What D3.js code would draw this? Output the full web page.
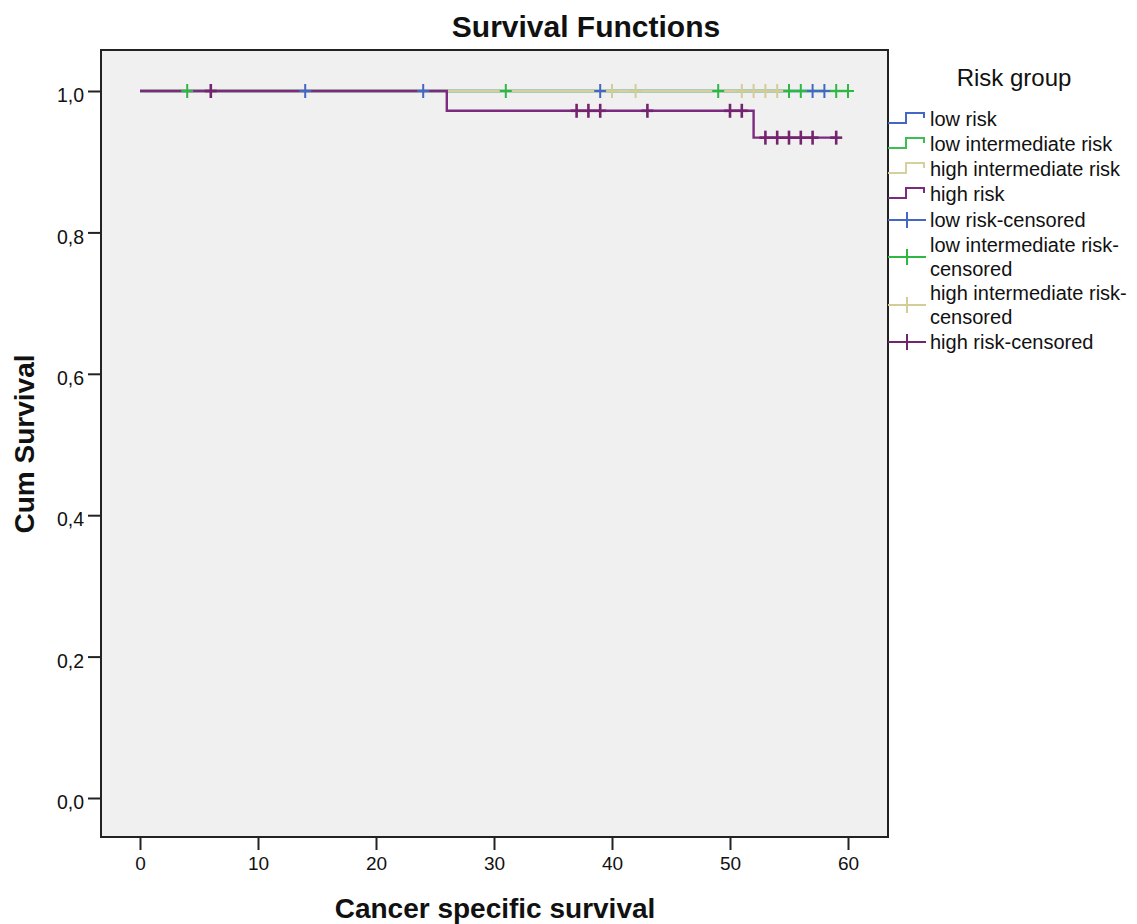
<!DOCTYPE html>
<html>
<head>
<meta charset="utf-8">
<script src="https://cdn.jsdelivr.net/npm/d3@7"></script>
<style>
  html, body { margin: 0; padding: 0; background: #ffffff; }
  svg { display: block; }
  text { font-family: "Liberation Sans", Arial, sans-serif; fill: #111; }
</style>
</head>
<body>
<svg id="chart" width="1137" height="924"></svg>
<script>
// Kaplan-Meier curves per risk group: step times (months) and cumulative survival
const groups = ["low risk", "low intermediate risk", "high intermediate risk", "high risk"];
const groupColors = ["#4466c4", "#3cbf50", "#d6d09c", "#7c2a80"];
const censorColors = ["#4466c4", "#2eb843", "#d2cc96", "#74236f"];

const lowRiskTimes = [0, 58];
const lowRiskSurvival = [1, 1];
const lowIntTimes = [0, 60];
const lowIntSurvival = [1, 1];
const highIntTimes = [0, 54];
const highIntSurvival = [1, 1];
const highRiskTimes = [0, 26, 52, 59];
const highRiskSurvival = [1, 0.972, 0.934, 0.934];

// censored observations (months)
const lowRiskCensored = [14, 24, 39, 57, 58];
const lowIntCensored = [4, 31, 49, 55, 56, 59, 60];
const highIntCensored = [40, 42, 51, 52, 53, 54];
const highRiskCensored = [6, 37, 38, 39, 43, 50, 51, 53, 54, 55, 56, 57, 59];

const xTicks = [0, 10, 20, 30, 40, 50, 60];
const yTicks = [0, 0.2, 0.4, 0.6, 0.8, 1.0];

const legendLabels = [
  ["low risk"],
  ["low intermediate risk"],
  ["high intermediate risk"],
  ["high risk"],
  ["low risk-censored"],
  ["low intermediate risk-", "censored"],
  ["high intermediate risk-", "censored"],
  ["high risk-censored"]
];

const series = [
  { times: lowRiskTimes, surv: lowRiskSurvival, cens: lowRiskCensored },
  { times: lowIntTimes, surv: lowIntSurvival, cens: lowIntCensored },
  { times: highIntTimes, surv: highIntSurvival, cens: highIntCensored },
  { times: highRiskTimes, surv: highRiskSurvival, cens: highRiskCensored }
];

const svg = d3.select("#chart");
const frame = { left: 101, right: 888, top: 50, bottom: 837 };

const x = d3.scaleLinear().domain([0, 60]).range([140, 848]);
const y = d3.scaleLinear().domain([0, 1]).range([798, 91]);

// plot background
svg.append("rect")
  .attr("x", frame.left).attr("y", frame.top)
  .attr("width", frame.right - frame.left).attr("height", frame.bottom - frame.top)
  .attr("fill", "#f0f0f0");

// title
svg.append("text")
  .attr("x", 586).attr("y", 37)
  .attr("text-anchor", "middle")
  .style("font-weight", "bold").style("font-size", "30px")
  .text("Survival Functions");

// axes
const fmt = d => d3.format(".1f")(d).replace(".", ",");
const xAxis = svg.append("g")
  .attr("transform", `translate(0,${frame.bottom})`)
  .call(d3.axisBottom(x).tickValues(xTicks).tickSize(13).tickPadding(7).tickFormat(d3.format("d")));
xAxis.select(".domain").remove();
xAxis.selectAll("line").attr("stroke", "#222").attr("stroke-width", 2);
xAxis.selectAll("text").style("font-size", "19px").attr("fill", "#111");

const yAxis = svg.append("g")
  .attr("transform", `translate(${frame.left},0)`)
  .call(d3.axisLeft(y).tickValues(yTicks).tickSize(13).tickPadding(4).tickFormat(fmt));
yAxis.select(".domain").remove();
yAxis.selectAll("line").attr("stroke", "#222").attr("stroke-width", 2);
yAxis.selectAll("text").style("font-size", "19.5px").attr("dy", "0.55em").attr("fill", "#111");

// axis titles
svg.append("text")
  .attr("x", 495).attr("y", 918)
  .attr("text-anchor", "middle")
  .style("font-weight", "bold").style("font-size", "28px")
  .text("Cancer specific survival");

svg.append("text")
  .attr("transform", "translate(34,444) rotate(-90)")
  .attr("text-anchor", "middle")
  .style("font-weight", "bold").style("font-size", "28px")
  .text("Cum Survival");

// survival step curves
const line = d3.line()
  .x(d => x(d[0]))
  .y(d => y(d[1]))
  .curve(d3.curveStepAfter);

const plot = svg.append("g");
series.forEach((s, i) => {
  const pts = s.times.map((t, k) => [t, s.surv[k]]);
  plot.append("path")
    .attr("d", line(pts))
    .attr("fill", "none")
    .attr("stroke", groupColors[i])
    .attr("stroke-width", 2.4);
});

// survival value at time t for a step curve
function survAt(s, t) {
  let v = s.surv[0];
  s.times.forEach((tt, k) => { if (tt <= t) v = s.surv[k]; });
  return v;
}

// censoring crosses
series.forEach((s, i) => {
  s.cens.forEach(t => {
    const cx = x(t), cy = y(survAt(s, t));
    const g = plot.append("g").attr("stroke", censorColors[i]).attr("stroke-width", i === 3 ? 2.6 : 2);
    g.append("line").attr("x1", cx).attr("x2", cx).attr("y1", cy - 7).attr("y2", cy + 7);
    g.append("line").attr("x1", cx - 6).attr("x2", cx + 6).attr("y1", cy).attr("y2", cy);
  });
});

// frame border
svg.append("rect")
  .attr("x", frame.left).attr("y", frame.top)
  .attr("width", frame.right - frame.left).attr("height", frame.bottom - frame.top)
  .attr("fill", "none").attr("stroke", "#222").attr("stroke-width", 2);

// legend
const legend = svg.append("g");
legend.append("text")
  .attr("x", 1014).attr("y", 86)
  .attr("text-anchor", "middle")
  .style("font-size", "24px")
  .text("Risk group");

const itemY = [119, 144, 169, 194, 220, 245, 293, 342];
const lx0 = 888, lx1 = 926, textX = 930;

legendLabels.forEach((lab, i) => {
  const cy = itemY[i];
  const gi = i % 4;
  if (i < 4) {
    // step glyph
    const stepPts = [[lx0, cy + 4], [906, cy + 4], [906, cy - 6], [924, cy - 6], [924, cy - 1]];
    legend.append("path")
      .attr("d", d3.line()(stepPts))
      .attr("fill", "none")
      .attr("stroke", groupColors[gi])
      .attr("stroke-width", 2);
  } else {
    const my = lab.length > 1 ? cy + 12 : cy;
    legend.append("line")
      .attr("x1", lx0).attr("x2", lx1).attr("y1", my).attr("y2", my)
      .attr("stroke", censorColors[gi]).attr("stroke-width", 2);
    legend.append("line")
      .attr("x1", 907).attr("x2", 907).attr("y1", my - 8).attr("y2", my + 8)
      .attr("stroke", censorColors[gi]).attr("stroke-width", 2);
  }
  lab.forEach((t, k) => {
    legend.append("text")
      .attr("x", textX).attr("y", cy + 7 + k * 24)
      .style("font-size", "20px")
      .text(t);
  });
});
</script>
</body>
</html>
